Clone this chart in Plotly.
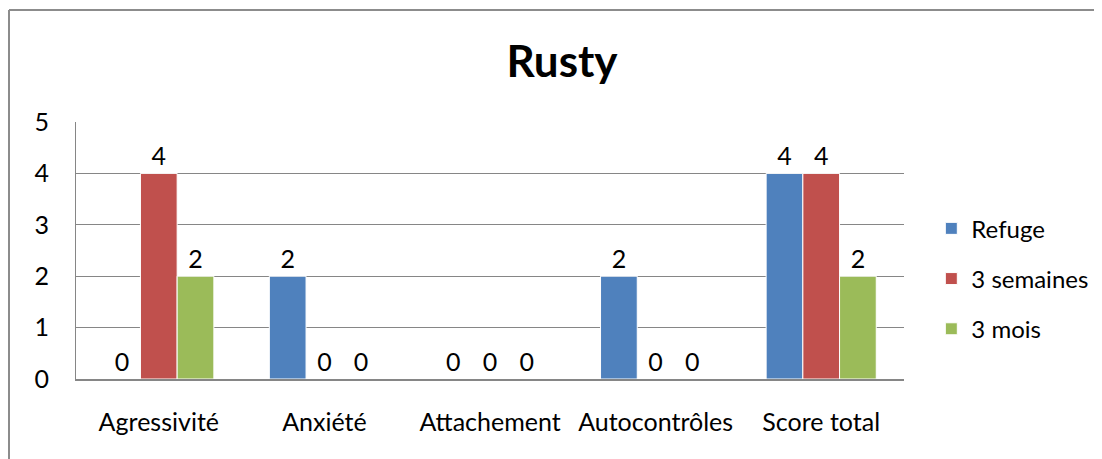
import plotly.graph_objects as go

# données du graphique
categories = ["Agressivité", "Anxiété", "Attachement", "Autocontrôles", "Score total"]
refuge = [0, 2, 0, 2, 4]
trois_semaines = [4, 0, 0, 0, 4]
trois_mois = [2, 0, 0, 0, 2]
series_names = ["Refuge", "3 semaines", "3 mois"]
y_ticks = [0, 1, 2, 3, 4, 5]

colors = ["#4F81BD", "#C0504D", "#9BBB59"]
FONT = "Lato"
W, H = 1102, 459
OFF = 8  # marge du <body> dans la page
# zone de tracé voulue dans la page : x 76..904, y 122..379
ML = 76 - OFF
MT = 122 - OFF
MR = W - (904 - OFF)
MB = H - (379 - OFF)

fig = go.Figure()
for name, vals, col in zip(series_names, [refuge, trois_semaines, trois_mois], colors):
    fig.add_trace(go.Bar(
        x=categories, y=vals, name=name, legendgroup=name,
        marker=dict(color=col, line=dict(color="white", width=1)),
        text=vals, texttemplate="%{y}", textposition="outside",
        textfont=dict(size=25, color="black", family=FONT),
        cliponaxis=False,
    ))

# cadre extérieur (bords gauche et haut visibles)
pw = W - ML - MR
ph = H - MT - MB
x0 = (8 - OFF - ML + 1) / pw
y_top = (H - MB - (10 - OFF)) / ph
fig.add_shape(type="line", xref="paper", yref="paper", x0=x0, x1=(W - ML) / pw + 0.1,
              y0=y_top, y1=y_top, line=dict(color="#8C8C8C", width=2))
fig.add_shape(type="line", xref="paper", yref="paper", x0=x0, x1=x0,
              y0=y_top, y1=-MB / ph - 0.1, line=dict(color="#8C8C8C", width=2))

fig.update_layout(
    width=W, height=H,
    margin=dict(l=ML, r=MR, t=MT, b=MB, autoexpand=False),
    paper_bgcolor="white", plot_bgcolor="white",
    font=dict(family=FONT, size=25, color="black"),
    title=dict(text="<b>Rusty</b>", x=(562 - OFF) / W, xanchor="center",
               y=1 - (62 - OFF) / H, yanchor="middle", font=dict(size=44, family=FONT)),
    barmode="group", bargap=0.335, bargroupgap=0,
    showlegend=True,
    legend=dict(x=1.033, xanchor="left", y=0.39, yanchor="middle",
                font=dict(size=24, family=FONT), tracegroupgap=16,
                bgcolor="rgba(0,0,0,0)"),
)
fig.update_xaxes(showline=True, linecolor="#868686", linewidth=2, showgrid=False,
                 ticks="", ticklabelstandoff=20, tickfont=dict(size=25), automargin=False)
fig.update_yaxes(range=[0, 5], tickvals=y_ticks, showgrid=True, gridcolor="#868686",
                 gridwidth=1, showline=True, linecolor="#868686", linewidth=1,
                 zeroline=False, ticks="", ticklabelstandoff=21, tickfont=dict(size=25),
                 automargin=False)

fig.write_html("out.html")
